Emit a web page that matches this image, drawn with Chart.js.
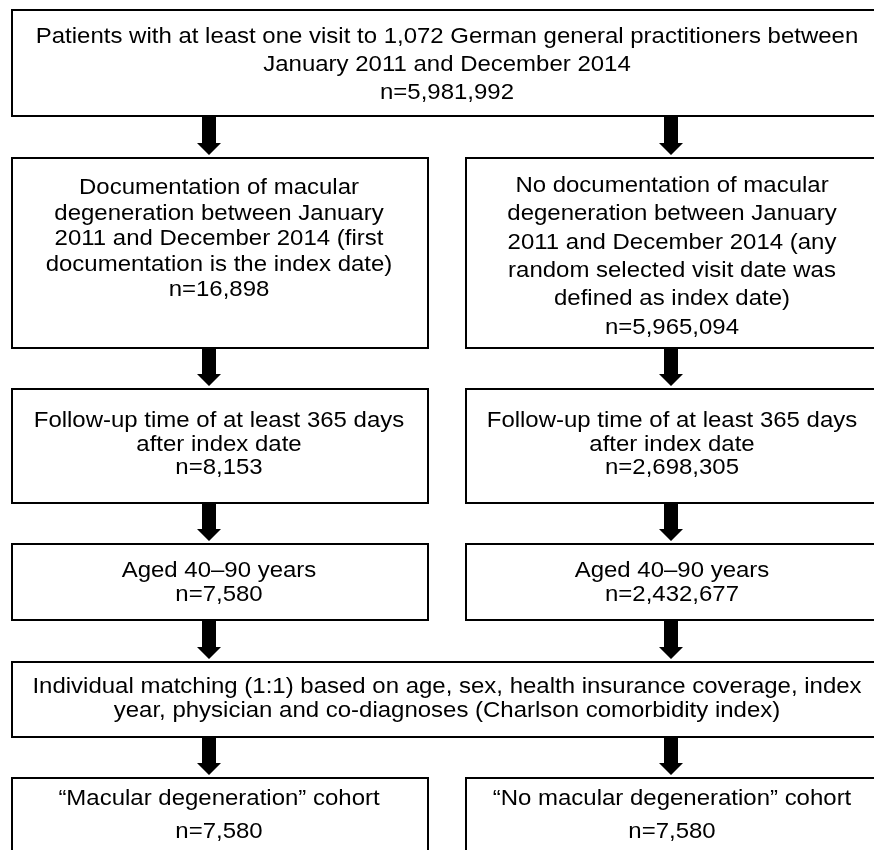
<!DOCTYPE html>
<html>
<head>
<meta charset="utf-8">
<script src="https://cdn.jsdelivr.net/npm/chart.js@4"></script>
<style>
  html, body { margin: 0; padding: 0; background: #fff; }
  #wrap { width: 874px; height: 850px; }
</style>
</head>
<body>
<div id="wrap"><canvas id="chart" width="874" height="850"></canvas></div>
<script>
// flow counts
const totalN = 5981992;
const caseN = [16898, 8153, 7580, 7580];
const controlN = [5965094, 2698305, 2432677, 7580];

// box texts (without the n= line)
const topText = ["Patients with at least one visit to 1,072 German general practitioners between",
                 "January 2011 and December 2014"];
const caseText = [
    ["Documentation of macular", "degeneration between January", "2011 and December 2014 (first", "documentation is the index date)"],
    ["Follow-up time of at least 365 days", "after index date"],
    ["Aged 40\u201390 years"],
    ["\u201cMacular degeneration\u201d cohort"]
];
const controlText = [
    ["No documentation of macular", "degeneration between January", "2011 and December 2014 (any", "random selected visit date was", "defined as index date)"],
    ["Follow-up time of at least 365 days", "after index date"],
    ["Aged 40\u201390 years"],
    ["\u201cNo macular degeneration\u201d cohort"]
];
const matchText = ["Individual matching (1:1) based on age, sex, health insurance coverage, index",
                   "year, physician and co-diagnoses (Charlson comorbidity index)"];

function nLine(v){ return "n=" + v.toLocaleString("en-US"); }

// layout (pixels in the 874x850 frame)
const rows = [
    {y0: 10,  y1: 116}, // top
    {y0: 158, y1: 348},
    {y0: 389, y1: 503},
    {y0: 544, y1: 620},
    {y0: 662, y1: 737}, // matching
    {y0: 778, y1: 880}
];
const colL = {x0: 12, x1: 428, mid: 219, arrow: 209};
const colR = {x0: 466, x1: 886, mid: 672, arrow: 671};
const full = {x0: 12, x1: 886, mid: 447};

const boxes = [
    {col: full, row: 0, lines: topText.concat([nLine(totalN)]), base: 43, gap: 28},
    {col: colL, row: 1, lines: caseText[0].concat([nLine(caseN[0])]), base: 194, gap: 25.5},
    {col: colR, row: 1, lines: controlText[0].concat([nLine(controlN[0])]), base: 192, gap: 28.3},
    {col: colL, row: 2, lines: caseText[1].concat([nLine(caseN[1])]), base: 427, gap: 23.5},
    {col: colR, row: 2, lines: controlText[1].concat([nLine(controlN[1])]), base: 427, gap: 23.5},
    {col: colL, row: 3, lines: caseText[2].concat([nLine(caseN[2])]), base: 577, gap: 23.5},
    {col: colR, row: 3, lines: controlText[2].concat([nLine(controlN[2])]), base: 577, gap: 23.5},
    {col: full, row: 4, lines: matchText, base: 693, gap: 23.5},
    {col: colL, row: 5, lines: caseText[3].concat([nLine(caseN[3])]), base: 805, gap: 33},
    {col: colR, row: 5, lines: controlText[3].concat([nLine(controlN[3])]), base: 805, gap: 33}
];

const textStretch = 1.09; // source lettering is a bit wider than Arial

const flowPlugin = {
    id: "flow",
    afterDraw(chart){
        const c = chart.ctx;
        const xs = chart.scales.x, ys = chart.scales.y;
        const px = v => xs.getPixelForValue(v);
        const py = v => ys.getPixelForValue(v);
        c.save();
        c.strokeStyle = "#000";
        c.lineWidth = 2;
        c.fillStyle = "#000";
        c.font = "22px 'Liberation Sans', Arial, sans-serif";
        c.textAlign = "center";
        c.textBaseline = "alphabetic";
        boxes.forEach(b => {
            const r = rows[b.row];
            c.strokeRect(px(b.col.x0), py(r.y0), px(b.col.x1) - px(b.col.x0), py(r.y1) - py(r.y0));
            b.lines.forEach((t, i) => {
                c.save();
                c.translate(px(b.col.mid), py(b.base + i * b.gap));
                c.scale(textStretch, 1);
                c.fillText(t, 0, 0);
                c.restore();
            });
        });
        // arrows between rows
        for (let i = 0; i < rows.length - 1; i++){
            [colL.arrow, colR.arrow].forEach(ax => {
                const top = rows[i].y1 + 1, tip = rows[i + 1].y0 - 3, head = 12;
                c.beginPath();
                c.moveTo(px(ax - 7), py(top));
                c.lineTo(px(ax + 7), py(top));
                c.lineTo(px(ax + 7), py(tip - head));
                c.lineTo(px(ax + 12), py(tip - head));
                c.lineTo(px(ax), py(tip));
                c.lineTo(px(ax - 12), py(tip - head));
                c.lineTo(px(ax - 7), py(tip - head));
                c.closePath();
                c.fill();
            });
        }
        c.restore();
    }
};

const ctx = document.getElementById("chart").getContext("2d");
const chart = new Chart(ctx, {
    type: "scatter",
    data: { datasets: [{ data: [], pointRadius: 0 }] },
    options: {
        responsive: false,
        animation: false,
        layout: { padding: 0 },
        plugins: { legend: { display: false }, tooltip: { enabled: false } },
        scales: {
            x: { type: "linear", min: 0, max: 874, display: false },
            y: { type: "linear", min: 0, max: 850, reverse: true, display: false }
        }
    },
    plugins: [flowPlugin]
});
</script>
</body>
</html>
